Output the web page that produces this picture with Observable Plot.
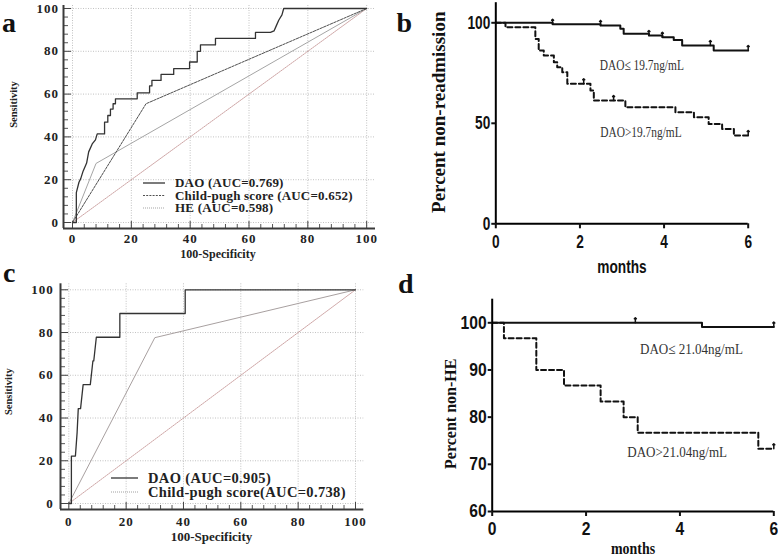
<!DOCTYPE html>
<html>
<head>
<meta charset="utf-8">
<script src="https://cdn.jsdelivr.net/npm/d3@7"></script>
<script src="https://cdn.jsdelivr.net/npm/@observablehq/plot@0.6"></script>
<style>
  body { margin: 0; background: #fff; }
  #fig { position: relative; width: 778px; height: 559px; overflow: hidden; background: #fff; }
  .panel { position: absolute; }
  .roc svg { font-family: "Liberation Serif", serif; font-weight: bold; font-size: 13px; color: #222; }
  .roc g[aria-label="x-axis tick label"], .roc g[aria-label="y-axis tick label"] { letter-spacing: 1px; }
  .km svg { font-family: "Liberation Sans", Arial, sans-serif; font-weight: bold; font-size: 18px; color: #111; }
  #overlay { position: absolute; left: 0; top: 0; pointer-events: none; }
</style>
</head>
<body>
<div id="fig">
  <div id="pa" class="panel roc" style="left:0px;top:0px"></div>
  <div id="pb" class="panel km" style="left:390px;top:0px"></div>
  <div id="pc" class="panel roc" style="left:0px;top:280px"></div>
  <div id="pd" class="panel km" style="left:390px;top:280px"></div>
</div>
<script>
// ---------------- DATA ----------------
// ROC common
const rocTicks = [0, 20, 40, 60, 80, 100];
const refFpr = [0, 100];
const refTpr = [0, 100];

// Panel a (ROC)
const aDaoFpr = [0,1.3,1.3,2.2,2.8,3.6,4.8,5.5,6.7,7.8,8.4,10.9,10.9,12,12,12.9,12.9,13.8,13.8,14.6,14.6,22,22,26.2,26.2,27,27,30.1,30.1,34.4,34.4,39.8,39.8,42.4,42.4,43.5,43.5,48.6,48.6,62.2,62.2,67.3,68.5,69.3,70.1,71.2,71.8,100];
const aDaoTpr = [0,0,14,18.8,20.5,24,27.8,33,36.7,38.6,41.4,41.4,46.9,46.9,50,50,53,53,55.5,55.5,57.8,57.8,60.6,60.6,63.8,63.8,66.4,66.4,69.2,69.2,71.9,71.9,75,75,80,80,83,83,86,86,88.8,88.8,89.5,92,94.5,97,100,100];
const aChildFpr = [0, 25, 100];
const aChildTpr = [0, 55.5, 100];
const aHeFpr = [0, 8, 100];
const aHeTpr = [0, 27.6, 100];
const aLegend = ["DAO (AUC=0.769)", "Child-pugh score (AUC=0.652)", "HE (AUC=0.598)"];

// Panel c (ROC)
const cDaoFpr = [0,0.9,0.9,2.3,2.9,3.3,4.1,5.0,7.5,8.4,8.7,9.6,17.8,17.8,40.6,40.6,100];
const cDaoTpr = [0,0,22.2,22.2,33.3,44.4,44.4,55.6,55.6,66.7,66.7,77.8,77.8,88.9,88.9,100,100];
const cChildFpr = [0, 30, 100];
const cChildTpr = [0, 77.6, 100];
const cLegend = ["DAO (AUC=0.905)", "Child-pugh score(AUC=0.738)"];

// Panel b (Kaplan-Meier, readmission)
const kmXTicks = [0, 2, 4, 6];
const bYTicks = [0, 50, 100];
const bLowT = [0, 1.35, 2.49, 2.96, 3.04, 3.64, 3.96, 4.23, 4.43, 5.18, 6];
const bLowS = [100, 99.3, 98.7, 97, 94.5, 93.7, 92.8, 91.5, 88.7, 86.2, 86.2];
const bLowCensor = [1.35, 2.49, 3.64, 3.96, 5.1, 6];
const bHighT = [0, 0.23, 0.94, 1.02, 1.14, 1.38, 1.46, 1.58, 1.70, 2.25, 2.33, 3.08, 4.27, 4.71, 5.06, 5.38, 5.66, 6];
const bHighS = [100, 97.8, 92, 86.2, 83.7, 80.4, 77.9, 75.4, 69.7, 66.3, 61.3, 58, 55.5, 53, 49.7, 47.2, 43.9, 43.9];
const bHighCensor = [2.09, 2.8, 6];
const bLabels = ["DAO\u2264 19.7ng/mL", "DAO>19.7ng/mL"];
const bLabelX = [3.47, 3.45];
const bLabelY = [78.8, 45.6];

// Panel d (Kaplan-Meier, HE)
const dYTicks = [60, 70, 80, 90, 100];
const dLowT = [0, 4.47, 6];
const dLowS = [100, 99.1, 99.1];
const dLowCensor = [3.05, 6];
const dHighT = [0, 0.25, 0.94, 1.53, 2.31, 2.8, 3.1, 5.67, 6];
const dHighS = [100, 96.7, 90, 86.7, 83.3, 80, 76.7, 73.3, 73.3];
const dHighCensor = [6];
const dLabels = ["DAO\u2264 21.04ng/mL", "DAO>21.04ng/mL"];
const dLabelX = [4.245, 3.94];
const dLabelY = [94.5, 72.5];

// ---------------- helpers ----------------
const pts = (xs, ys) => xs.map((x, i) => ({x, y: ys[i]}));
const steps = (ts, ss) => ts.map((t, i) => ({t, s: ss[i]}));
function survAt(ts, ss, t) { let s = ss[0]; for (let i = 0; i < ts.length; i++) if (ts[i] <= t) s = ss[i]; return s; }
const censors = (ts, ss, cs) => cs.map(t => ({t, s: survAt(ts, ss, t)}));
const rocMinor = d3.range(0, 101, 4).filter(v => v % 20 !== 0);

function squeeze(svg, k) {
  svg.querySelectorAll("text").forEach(t => {
    const tr = t.getAttribute("transform") || "";
    if (tr.includes("rotate")) return;
    const w = t.getComputedTextLength();
    if (w > 0) { t.setAttribute("textLength", (w * k).toFixed(2)); t.setAttribute("lengthAdjust", "spacingAndGlyphs"); }
  });
}

const gridStyle = {stroke: "#a8a8a8", strokeOpacity: 1, strokeWidth: 0.7, strokeDasharray: "1,1.5"};
const titleBase = {textAnchor: "middle", lineAnchor: "middle"};

function rocPlot(o) {
  const W = o.width - o.ml - o.mr, H = o.height - o.mt - o.mb;
  return Plot.plot({
    width: o.width, height: o.height,
    marginLeft: o.ml, marginRight: o.mr, marginTop: o.mt, marginBottom: o.mb,
    x: {domain: o.xDom}, y: {domain: o.yDom},
    marks: [
      Plot.gridX(rocTicks, gridStyle),
      Plot.gridY(rocTicks, gridStyle),
      ...o.lines,
      Plot.tickX(rocTicks, {x: d => d, insetTop: H - 7, stroke: "#444"}),
      Plot.tickX(rocMinor, {x: d => d, insetTop: H - 4, stroke: "#555"}),
      Plot.tickY(rocTicks, {y: d => d, insetRight: W - 8, stroke: "#444"}),
      Plot.tickY(rocMinor, {y: d => d, insetRight: W - 5, stroke: "#555"}),
      Plot.ruleX([o.xDom[0]], {stroke: "#3a3a3a", strokeWidth: 2}),
      Plot.ruleY([o.yDom[0]], {stroke: "#3a3a3a", strokeWidth: 2}),
      Plot.axisX(rocTicks, {tickSize: 0, tickPadding: o.xPad, label: null}),
      Plot.axisY(rocTicks, {tickSize: 0, tickPadding: o.yPad, label: null}),
      Plot.text(["Sensitivity"], {...titleBase, text: d => d, frameAnchor: "left", rotate: -90, dx: o.yt[0], dy: o.yt[1], fontSize: o.ytSize, fontWeight: "bold"}),
      Plot.text(["100-Specificity"], {...titleBase, text: d => d, frameAnchor: "bottom", dx: o.xt[0], dy: o.xt[1], fontSize: o.xtSize, fontWeight: "bold"})
    ]
  });
}

// ---------------- Panel a ----------------
const aPlot = rocPlot({
  width: 390, height: 280, ml: 63, mr: 15, mt: 5, mb: 52,
  xDom: [-3.06, 103], yDom: [-2.8, 101.4], xPad: 5.5, yPad: 4.5,
  yt: [-49.5, -12.5], ytSize: 10.5, xt: [-1.5, 25.5], xtSize: 12,
  lines: [
    Plot.line(pts(refFpr, refTpr), {x: "x", y: "y", stroke: "#c79a9a", strokeWidth: 0.9, strokeDasharray: "1.5,1"}),
    Plot.line(pts(aHeFpr, aHeTpr), {x: "x", y: "y", stroke: "#a5a5a5", strokeWidth: 1}),
    Plot.line(pts(aChildFpr, aChildTpr), {x: "x", y: "y", stroke: "#505050", strokeWidth: 1, strokeDasharray: "2.5,1.2"}),
    Plot.line(pts(aDaoFpr, aDaoTpr), {x: "x", y: "y", stroke: "#333", strokeWidth: 1.3})
  ]
});
document.getElementById("pa").append(aPlot);

// ---------------- Panel c ----------------
const cPlot = rocPlot({
  width: 390, height: 279, ml: 60, mr: 26.7, mt: 3.3, mb: 50,
  xDom: [-2.9, 102.9], yDom: [-2.8, 102.8], xPad: 7, yPad: 6.7,
  yt: [-51.5, -5], ytSize: 10.5, xt: [-0.7, 27.5], xtSize: 13,
  lines: [
    Plot.line(pts(refFpr, refTpr), {x: "x", y: "y", stroke: "#c79a9a", strokeWidth: 0.9, strokeDasharray: "1.5,1"}),
    Plot.line(pts(cChildFpr, cChildTpr), {x: "x", y: "y", stroke: "#a8a0a0", strokeWidth: 1}),
    Plot.line(pts(cDaoFpr, cDaoTpr), {x: "x", y: "y", stroke: "#333", strokeWidth: 1.3})
  ]
});
document.getElementById("pc").append(cPlot);

// ---------------- KM plots ----------------
function kmPlot(o) {
  return Plot.plot({
    width: o.width, height: o.height,
    marginLeft: o.ml, marginRight: o.mr, marginTop: o.mt, marginBottom: o.mb,
    x: {domain: [0, 6]}, y: {domain: o.yDom},
    marks: [
      Plot.line(steps(o.hiT, o.hiS), {x: "t", y: "s", curve: "step-after", stroke: "#111", strokeWidth: 2, strokeDasharray: "5,3"}),
      Plot.line(steps(o.loT, o.loS), {x: "t", y: "s", curve: "step-after", stroke: "#111", strokeWidth: 2}),
      Plot.vector(censors(o.loT, o.loS, o.loC), {x: "t", y: "s", length: 5, anchor: "start", stroke: "#111", strokeWidth: 1.5}),
      Plot.vector(censors(o.hiT, o.hiS, o.hiC), {x: "t", y: "s", length: 5, anchor: "start", stroke: "#111", strokeWidth: 1.5}),
      Plot.ruleX([0], {stroke: "#000", strokeWidth: 2}),
      Plot.ruleY([o.yDom[0]], {stroke: "#000", strokeWidth: 2}),
      Plot.axisX(kmXTicks, {tickSize: 5, tickPadding: 6, strokeWidth: 2, label: null}),
      Plot.axisY(o.yTicks, {tickSize: 4, tickPadding: 1.5, strokeWidth: 2, label: null}),
      Plot.text(o.labels, {x: (d, i) => o.labX[i], y: (d, i) => o.labY[i], text: d => d, fontFamily: "Liberation Serif", fontWeight: "normal", fontSize: 15, fill: "#333"}),
      Plot.text(["months"], {...titleBase, text: d => d, frameAnchor: "bottom", dy: o.mDy, fontFamily: o.mFont, fontSize: o.mSize}),
      Plot.text([o.yTitle], {...titleBase, text: d => d, frameAnchor: "left", rotate: -90, dx: o.yt[0], dy: o.yt[1], fontFamily: "Liberation Serif", fontWeight: "bold", fontSize: o.ytSize})
    ]
  });
}

const bPlot = kmPlot({
  width: 388, height: 280, ml: 105.3, mr: 30.3, mt: 2.2, mb: 56.7, yDom: [0, 110], yTicks: bYTicks,
  hiT: bHighT, hiS: bHighS, hiC: bHighCensor, loT: bLowT, loS: bLowS, loC: bLowCensor,
  labels: bLabels, labX: bLabelX, labY: bLabelY,
  mDy: 43, mFont: "Liberation Sans", mSize: 18,
  yTitle: "Percent non-readmission", yt: [-57, -1], ytSize: 19
});
document.getElementById("pb").append(bPlot);

const dPlot = kmPlot({
  width: 388, height: 279, ml: 101.7, mr: 4.7, mt: 18.7, mb: 48, yDom: [60, 105], yTicks: dYTicks,
  hiT: dHighT, hiS: dHighS, hiC: dHighCensor, loT: dLowT, loS: dLowS, loC: dLowCensor,
  labels: dLabels, labX: dLabelX, labY: dLabelY,
  mDy: 37.5, mFont: "Liberation Serif", mSize: 16,
  yTitle: "Percent non-HE", yt: [-41.7, 8.4], ytSize: 16
});
document.getElementById("pd").append(dPlot);

squeeze(bPlot, 0.76);
squeeze(dPlot, 0.87);

// ---------------- overlay: panel letters and ROC legends ----------------
const ov = d3.select("#fig").append("svg").attr("id", "overlay").attr("width", 778).attr("height", 559);
const letters = [["a", 2, 31.5], ["b", 396.5, 31.5], ["c", 3, 282], ["d", 398, 293]];
ov.selectAll("text.letter").data(letters).join("text").attr("class", "letter")
  .attr("x", d => d[1]).attr("y", d => d[2]).text(d => d[0])
  .attr("font-family", "Liberation Serif").attr("font-weight", "bold").attr("font-size", 28).attr("fill", "#111");

function legend(items, styles, x1, x2, tx, ys, size, spacing) {
  items.forEach((label, i) => {
    const s = styles[i];
    ov.append("line").attr("x1", x1).attr("x2", x2).attr("y1", ys[i]).attr("y2", ys[i])
      .attr("stroke", s.stroke).attr("stroke-width", s.width).attr("stroke-dasharray", s.dash || null);
    ov.append("text").attr("x", tx).attr("y", ys[i] + size * 0.34).text(label)
      .attr("font-family", "Liberation Serif").attr("font-weight", "bold").attr("font-size", size)
      .attr("letter-spacing", spacing).attr("fill", "#222");
  });
}
legend(aLegend,
  [{stroke: "#333", width: 1.3}, {stroke: "#505050", width: 1, dash: "2,1.2"}, {stroke: "#a5a5a5", width: 1, dash: "1,1"}],
  143, 165, 175, [183, 195.5, 208], 13, 0.2);
legend(cLegend,
  [{stroke: "#333", width: 1.3}, {stroke: "#a0a0a0", width: 1, dash: "1,1"}],
  111, 138, 148, [478, 492], 14.5, 0.35);
</script>
</body>
</html>
